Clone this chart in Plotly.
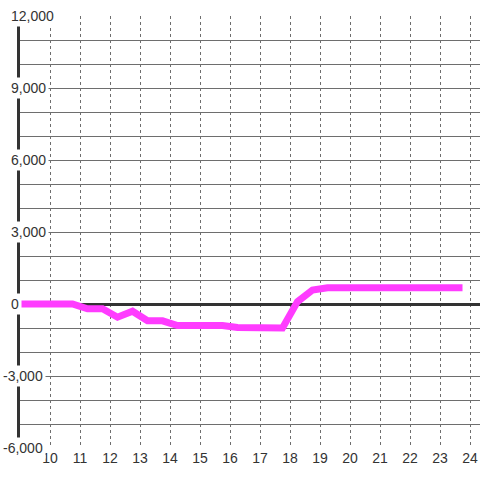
import plotly.graph_objects as go

# hours of the day and values
hours = [9.0, 9.75, 10.25, 10.75, 11.25, 11.75, 12.25, 12.75, 13.25, 13.75,
         14.25, 14.75, 15.25, 15.75, 16.25, 16.75, 17.25, 17.75, 18.25, 18.75,
         19.25, 19.75, 20.25, 20.75, 21.25, 21.75, 22.25, 22.75, 23.25, 23.75]
values = [0, 0, 0, 0, -200, -200, -550, -300, -700, -700,
          -900, -900, -900, -900, -980, -1000, -1000, -1000, 100, 580,
          680, 680, 680, 680, 680, 680, 680, 680, 680, 680]

x_ticks = list(range(10, 25))
y_labels = [12000, 9000, 6000, 3000, 0, -3000, -6000]

fig = go.Figure()
fig.add_trace(go.Scatter(
    x=hours, y=values, mode="lines",
    line=dict(color="#ff3cff", width=7),
    hoverinfo="skip",
))

# y tick labels sit on a white box over the axis line
for v in y_labels:
    fig.add_annotation(
        x=0, xref="paper", y=v, yref="y",
        text=f"{v:,}", showarrow=False,
        xanchor="left", yanchor="middle",
        xshift=-12 if v >= 0 else -20,
        bgcolor="white", borderpad=2,
        font=dict(family="Liberation Sans, Arial, sans-serif", size=14, color="#333333"),
    )

fig.update_layout(
    width=480, height=480,
    margin=dict(l=20, r=0, t=16, b=32, autoexpand=False),
    paper_bgcolor="white", plot_bgcolor="white",
    showlegend=False,
    font=dict(family="Liberation Sans, Arial, sans-serif", size=14, color="#333333"),
    xaxis=dict(
        range=[9, 24.333],
        tickvals=x_ticks,
        showgrid=True, gridcolor="#6e6e6e", gridwidth=1, griddash="3px,3px",
        showline=False, zeroline=False, ticks="", automargin=False,
        tickfont=dict(size=14, color="#333333"),
    ),
    yaxis=dict(
        range=[-6000, 12000],
        dtick=1000, tick0=0,
        showgrid=True, gridcolor="#6e6e6e", gridwidth=1,
        showticklabels=False, ticks="", automargin=False,
        showline=True, linecolor="#333333", linewidth=3,
        zeroline=True, zerolinecolor="#333333", zerolinewidth=3,
    ),
)

# drop the default page margin so the chart fills the window
fig.write_html("out.html", config={"displayModeBar": False},
               post_script="document.body.style.margin='0';")
